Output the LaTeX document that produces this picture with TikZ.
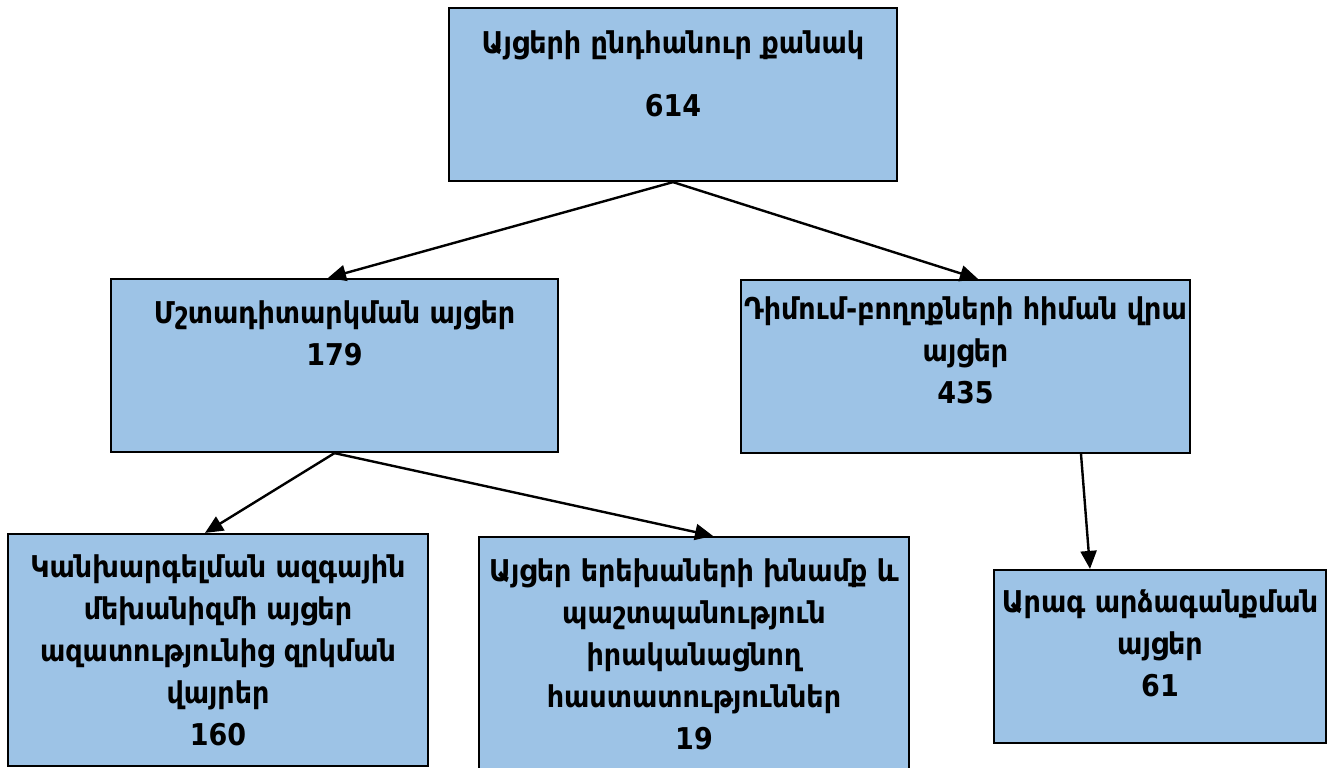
\documentclass[tikz,border=0pt]{standalone}
\usepackage{fontspec}
\setmainfont{DejaVu Sans Condensed}
\usetikzlibrary{arrows.meta}
\definecolor{boxblue}{RGB}{157,195,230}
\newcommand{\padbot}[1]{\rule[-#1]{0pt}{#1}}

\begin{document}
\begin{tikzpicture}[x=0.5pt, y=-0.5pt,
    visit/.style={draw=black, line width=1.1pt, fill=boxblue, align=center,
        font=\bfseries\fontsize{15}{21}\selectfont, inner sep=0pt},
    link/.style={-{Triangle[length=9pt,width=8pt]}, line width=1.2pt}]
    \useasboundingbox (0,0) rectangle (1336,767);

    % Boxes
    \node[visit, minimum width=224pt, minimum height=86.5pt] (total) at (673,94.5)
        {Այցերի ընդհանուր քանակ\\[10.5pt]614\padbot{20.5pt}};
    \node[visit, minimum width=223.5pt, minimum height=86.5pt] (monitor) at (334.5,365.5)
        {Մշտադիտարկման այցեր\\179\padbot{32.5pt}};
    \node[visit, minimum width=224.5pt, minimum height=86.5pt] (complaint) at (965.5,366.5)
        {Դիմում-բողոքների հիման վրա\\այցեր\\435\padbot{16pt}};
    \node[visit, minimum width=210pt, minimum height=116pt] (npm) at (218,650)
        {Կանխարգելման ազգային\\մեխանիզմի այցեր\\ազատությունից զրկման\\վայրեր\\160};
    \node[visit, minimum width=215pt, minimum height=117.5pt] (children) at (694,654.5)
        {Այցեր երեխաների խնամք և\\պաշտպանություն\\իրականացնող\\հաստատություններ\\19};
    \node[visit, minimum width=166pt, minimum height=86.5pt] (rapid) at (1160,656.5)
        {Արագ արձագանքման\\այցեր\\61\padbot{13.5pt}};

    % Arrows
    \draw[link] (total.south) -- ([xshift=-3.25pt]monitor.north);
    \draw[link] (total.south) -- ([xshift=6.25pt]complaint.north);
    \draw[link] (monitor.south) -- ([xshift=-6.5pt]npm.north);
    \draw[link] (monitor.south) -- ([xshift=9.5pt]children.north);
    \draw[link] ([xshift=57.75pt]complaint.south) -- ([xshift=-35pt]rapid.north);

\end{tikzpicture}
\end{document}
